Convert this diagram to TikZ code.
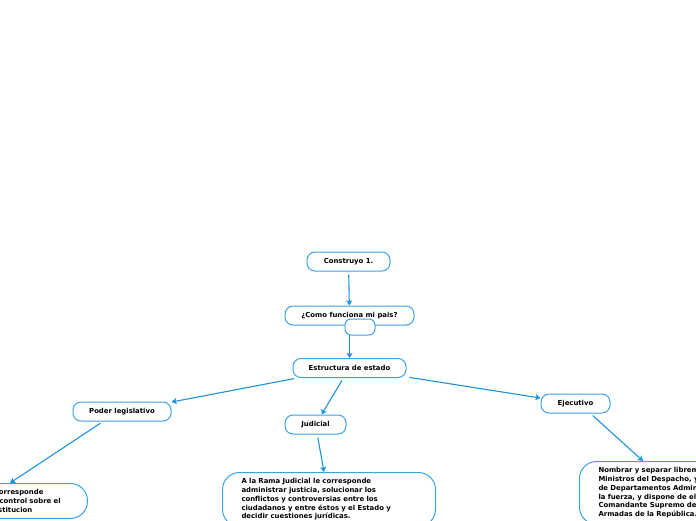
\documentclass[tikz,border=0pt]{standalone}
\usepackage{fontspec}
\setmainfont{DejaVu Sans}
\usetikzlibrary{arrows.meta}
\definecolor{mapblue}{HTML}{3AA2E6}
\definecolor{linkblue}{HTML}{1E92DF}

\tikzset{
  topic/.style={draw=mapblue,line width=1pt,rounded corners=8pt,fill=white,
    minimum height=19pt,inner sep=0pt,font=\fontsize{6.9}{8.8}\selectfont\bfseries},
  leaf/.style={draw=mapblue,line width=1pt,rounded corners=17pt,fill=white,
    inner xsep=19pt,inner ysep=6pt,align=left,
    font=\fontsize{6.9}{8.8}\selectfont\bfseries},
  link/.style={draw=linkblue,line width=1.1pt,shorten <=3pt,
    -{Stealth[length=5pt,width=6pt,inset=1pt]}}
}

\begin{document}
\begin{tikzpicture}[x=1pt,y=-1pt]
  \useasboundingbox (0,0) rectangle (696,520);
  \clip (0,0) rectangle (696,520);

  % central topics
  \node[topic,minimum width=83pt] (construyo) at (348.5,261.5) {Construyo 1.};
  \node[topic,minimum width=129pt] (como) at (349.5,315.5) {¿Como funciona mi pais?};
  \node[topic,minimum width=113pt] (estructura) at (349.5,368) {Estructura de estado};

  % branches
  \node[topic,minimum width=98pt] (legislativo) at (122,411.5) {Poder legislativo};
  \node[topic,minimum width=61pt] (judicial) at (315.5,424.5) {Judicial};
  \node[topic,minimum width=69pt] (ejecutivo) at (575.5,403.5) {Ejecutivo};

  % leaves
  \node[leaf,anchor=north east,text width=81pt,minimum width=127pt] (legtext) at (88,483)
    {Le corresponde\\y el control sobre el\\Constitucion};
  \node[leaf,anchor=north west,text width=175pt] (judtext) at (222,472)
    {A la Rama Judicial le corresponde\\administrar justicia, solucionar los\\conflictos y controversias entre los\\ciudadanos y entre éstos y el Estado y\\decidir cuestiones jurídicas.};
  \node[leaf,anchor=north west,text width=175pt] (ejetext) at (579,461)
    {Nombrar y separar libremente a los\\Ministros del Despacho, y a los Directores\\de Departamentos Administrativos; dirige\\la fuerza, y dispone de ella como\\Comandante Supremo de las Fuerzas\\Armadas de la República.};

  % connectors
  \draw[link] (construyo) -- (como);
  \draw[link] (como) -- (estructura);
  \draw[link] (estructura) -- (legislativo);
  \draw[link] (estructura) -- (judicial);
  \draw[link] (estructura) -- (ejecutivo);
  \draw[link] ([xshift=-19pt]legislativo.south) -- ([xshift=-78pt]legtext.north east);
  \draw[link] (judicial) -- ([xshift=-5pt]judtext.north);
  \draw[link] ([xshift=15pt]ejecutivo.south) -- ([xshift=64pt]ejetext.north west);

  % empty box over the link
  \node[topic,rounded corners=6pt,minimum width=30pt,minimum height=16pt] (blank) at (360,327) {};
\end{tikzpicture}
\end{document}
